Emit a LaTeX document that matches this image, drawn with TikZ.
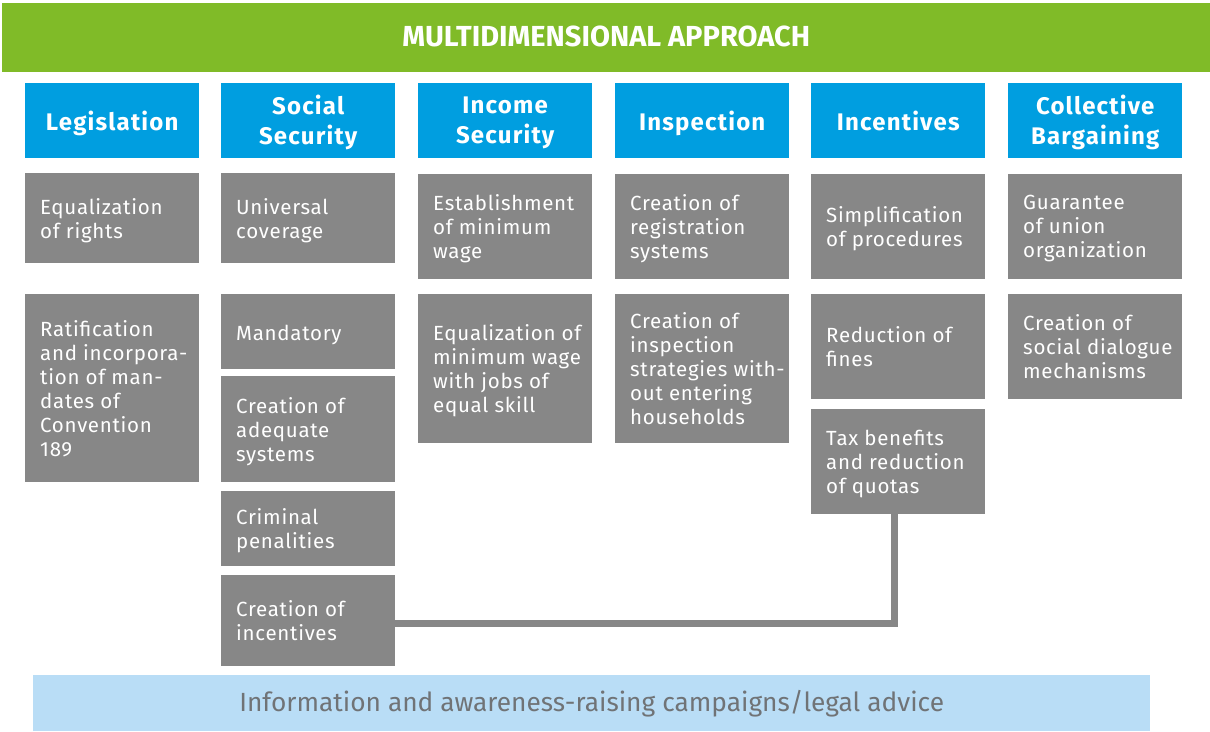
\documentclass[tikz,border=0pt]{standalone}
\usepackage{fontspec}
\setmainfont{Fira Sans}
\newfontfamily\cellfont[LetterSpace=3.5]{Fira Sans}
\newfontfamily\headfont[LetterSpace=5]{Fira Sans}
\usetikzlibrary{calc}
\definecolor{topgreen}{HTML}{80BB28}
\definecolor{headblue}{HTML}{009EE0}
\definecolor{cellgray}{HTML}{878787}
\definecolor{barblue}{HTML}{B9DDF6}
\definecolor{bartext}{HTML}{707376}
\tikzset{
  cellbox/.style={fill=cellgray, draw=none, anchor=north west, minimum width=174pt, inner sep=0pt},
  celltext/.style={anchor=west, align=left, inner sep=0pt, text=white,
    font=\cellfont\fontsize{20.5}{24}\selectfont,
    execute at begin node=\strut, execute at end node=\strut},
  headbox/.style={fill=headblue, draw=none, anchor=north west, minimum width=174pt,
    minimum height=75pt, inner sep=0pt},
  headtext/.style={align=center, inner sep=0pt, text=white,
    font=\headfont\fontsize{24}{30}\selectfont\bfseries,
    execute at begin node=\strut, execute at end node=\strut},
  linkline/.style={draw=cellgray, line width=7pt}
}
% box with left-aligned, vertically centred text: name, x, y, height, text
\newcommand\cell[5]{%
  \node[cellbox, minimum height=#4pt] (#1) at (#2,#3) {};
  \node[celltext] (#1t) at ([xshift=15pt, yshift=-3.5pt]#1.west) {#5};}
% column header: name, x, text
\newcommand\colhead[3]{%
  \node[headbox] (#1) at (#2,83) {};
  \node[headtext] (#1t) at ([yshift=-3.5pt]#1.center) {#3};}
\begin{document}
\begin{tikzpicture}[x=1pt, y=-1pt]
\useasboundingbox (0,0) rectangle (1210,731);

% title bar
\node[fill=topgreen, anchor=north west, minimum width=1208pt, minimum height=69pt,
  inner sep=0pt] (title) at (2,3) {};
\node[text=white, inner sep=0pt, font=\fontsize{29}{34}\selectfont\bfseries] (titlet)
  at ([yshift=1pt]title.center) {MULTIDIMENSIONAL APPROACH};

% column headers
\colhead{h1}{25}{Legislation}
\colhead{h2}{221}{Social\\Security}
\colhead{h3}{418}{Income\\Security}
\colhead{h4}{615}{Inspection}
\colhead{h5}{811}{Incentives}
\colhead{h6}{1008}{Collective\\Bargaining}

% Legislation
\cell{leg1}{25}{173}{90}{Equalization\\of rights}
\cell{leg2}{25}{294}{188}{Ratification\\and incorpora-\\tion of man-\\dates of\\Convention\\189}

% Social Security
\cell{soc1}{221}{173}{90}{Universal\\coverage}
\cell{soc2}{221}{294}{75}{Mandatory}
\cell{soc3}{221}{376}{106}{Creation of\\adequate\\systems}
\cell{soc4}{221}{491}{75}{Criminal\\penalities}
\cell{soc5}{221}{575}{91}{Creation of\\incentives}

% Income Security
\cell{inc1}{418}{174}{105}{Establishment\\of minimum\\wage}
\cell{inc2}{418}{294}{149}{Equalization of\\minimum wage\\with jobs of\\equal skill}

% Inspection
\cell{ins1}{615}{174}{105}{Creation of\\registration\\systems}
\cell{ins2}{615}{294}{149}{Creation of\\inspection\\strategies with-\\out entering\\households}

% Incentives
\cell{ict1}{811}{174}{105}{Simplification\\of procedures}
\cell{ict2}{811}{294}{105}{Reduction of\\fines}
\cell{ict3}{811}{409}{105}{Tax benefits\\and reduction\\of quotas}

% Collective Bargaining
\cell{col1}{1008}{174}{105}{Guarantee\\of union\\organization}
\cell{col2}{1008}{294}{105}{Creation of\\social dialogue\\mechanisms}

% link between the two incentive boxes
\coordinate (linkA) at ($(soc5.east)+(0,3)$);
\coordinate (linkB) at ($(ict3.south)+(-4,0)$);
\draw[linkline] (linkA) -| (linkB);

% bottom bar
\node[fill=barblue, anchor=north west, minimum width=1117pt, minimum height=56pt,
  inner sep=0pt, text=bartext, font=\fontsize{26.3}{30}\selectfont] (info) at (33,675)
  {Information and awareness-raising campaigns/legal advice};
\end{tikzpicture}
\end{document}
